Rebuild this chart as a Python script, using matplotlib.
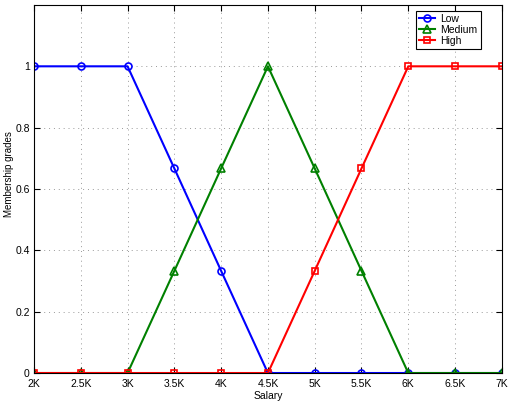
import matplotlib
matplotlib.use('Agg')
import matplotlib.pyplot as plt

plt.rcParams['font.family'] = ['Liberation Sans', 'DejaVu Sans']

# salary grid and membership grades
salary = [2000, 2500, 3000, 3500, 4000, 4500, 5000, 5500, 6000, 6500, 7000]
low = [1, 1, 1, 0.667, 0.333, 0, 0, 0, 0, 0, 0]
medium = [0, 0, 0, 0.333, 0.667, 1, 0.667, 0.333, 0, 0, 0]
high = [0, 0, 0, 0, 0, 0, 0.333, 0.667, 1, 1, 1]
xtick_labels = ['2K', '2.5K', '3K', '3.5K', '4K', '4.5K', '5K', '5.5K', '6K', '6.5K', '7K']
ytick_vals = [0, 0.2, 0.4, 0.6, 0.8, 1]
ytick_labels = ['0', '0.2', '0.4', '0.6', '0.8', '1']

fig = plt.figure(figsize=(5.08, 4.04), dpi=100)
ax = fig.add_axes([0.0669, 0.0767, 0.921, 0.911])

ax.plot(salary, low, '-o', color='#0000ff', mfc='none', ms=5, lw=1.5, mew=1.2, label='Low')
ax.plot(salary, medium, '-^', color='#008000', mfc='none', ms=6, lw=1.5, mew=1.2, label='Medium')
ax.plot(salary, high, '-s', color='#ff0000', mfc='none', ms=5, lw=1.5, mew=1.2, label='High')

ax.set_xlim(2000, 7000)
ax.set_ylim(0, 1.2)
ax.set_xticks(salary)
ax.set_xticklabels(xtick_labels)
ax.set_yticks(ytick_vals)
ax.set_yticklabels(ytick_labels)
ax.tick_params(direction='in', labelsize=7.5, length=4, top=True, right=True, pad=3)
ax.tick_params(axis='x', pad=4)
ax.grid(True, linestyle=(0, (1, 4)), color='#999999', lw=0.7)
ax.set_xlabel('Salary', fontsize=7.5, labelpad=2)
ax.set_ylabel('Membership grades', fontsize=7, labelpad=3)
ax.yaxis.set_label_coords(-0.043, 0.54)

leg = ax.legend(loc='upper right', bbox_to_anchor=(0.955, 0.984), fontsize=7.5,
                fancybox=False, edgecolor='black', framealpha=1, borderpad=0.3,
                labelspacing=0.1, handlelength=1.6, handletextpad=0.5, borderaxespad=0)
leg.get_frame().set_linewidth(0.8)

fig.savefig('out.png', dpi=100)
